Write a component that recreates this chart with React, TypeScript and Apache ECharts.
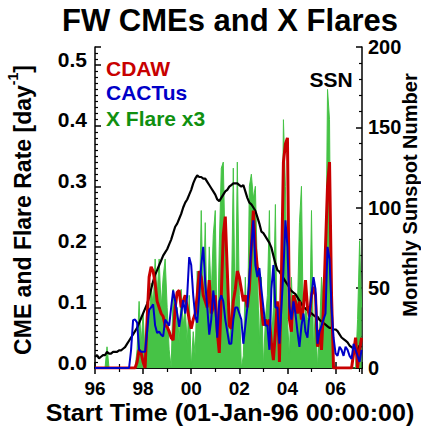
import React, { useEffect, useRef } from "react";
import * as echarts from "echarts";

// Monthly samples starting Jan 1996
const START_YEAR = 1996;
const STEP = 1 / 12;

const cdaw = [
  0, 0, 0, 0, 0, 0, 0, 0, 0, 0, 0, 0,
  0, 0, 0, 0, 0, 0, 0, 0, 0, 0.01, 0.03, 0.025,
  0.01, 0, 0.08, 0.15, 0.167, 0.16, 0.14, 0.11, 0.1, 0.09, 0.085, 0.07,
  0.068, 0.06, 0.05, 0.046, 0.1, 0.125, 0.128, 0.1, 0.11, 0.12, 0.1, 0.08,
  0.065, 0.08, 0.09, 0.12, 0.16, 0.15, 0.12, 0.11, 0.1, 0.145, 0.09, 0.1,
  0.12, 0.06, 0.025, 0.12, 0.22, 0.25, 0.16, 0.07, 0.065, 0.11, 0.13, 0.16,
  0.15, 0.13, 0.11, 0.12, 0.1, 0.13, 0.2, 0.26, 0.2, 0.165, 0.15, 0.1,
  0.07, 0.08, 0.07, 0.08, 0.04, 0.013, 0.06, 0.11, 0.01, 0.15, 0.34, 0.37,
  0.38, 0.08, 0.06, 0.12, 0.11, 0.09, 0.11, 0.08, 0.1, 0.145, 0.1, 0.085,
  0.12, 0.134, 0.12, 0.035, 0.063, 0.03, 0.1, 0.2, 0.3, 0.34, 0.12, 0,
  0, 0, 0, 0, 0, 0, 0, 0, 0, 0.024, 0.05, 0,
  0.03, 0.05,
];

const cactus = [
  0, 0, 0, 0, 0, 0, 0, 0, 0, 0, 0, 0,
  0, 0, 0, 0, 0, 0, 0.03, 0.079, 0.08, 0.075, 0.03, 0.027,
  0.027, 0.027, 0.06, 0.096, 0.1, 0.105, 0.07, 0.058, 0.06, 0.055, 0.052, 0.08,
  0.075, 0.07, 0.1, 0.128, 0.11, 0.09, 0.068, 0.09, 0.112, 0.09, 0.12, 0.183,
  0.17, 0.12, 0.085, 0.075, 0.12, 0.17, 0.2, 0.14, 0.1, 0.055, 0.08, 0.128,
  0.1, 0.05, 0.11, 0.12, 0.11, 0.08, 0.06, 0.04, 0.04, 0.08, 0.1, 0.1,
  0.09, 0.08, 0.04, 0.07, 0.1, 0.15, 0.2, 0.244, 0.17, 0.15, 0.165, 0.13,
  0.1, 0.07, 0.07, 0.03, 0.13, 0.17, 0.1, 0.1, 0.04, 0.1, 0.16, 0.244,
  0.2, 0.1, 0.08, 0.11, 0.09, 0.06, 0.035, 0.07, 0.09, 0.06, 0.05, 0.09,
  0.12, 0.15, 0.13, 0.04, 0.06, 0.07, 0.08, 0.09, 0.2, 0.18, 0.1, 0.05,
  0.024, 0.02, 0.035, 0.03, 0.02, 0.035, 0.03, 0.02, 0.015, 0.04, 0.03, 0.02,
  0.01, 0.03,
];

const xflare3 = [
  0, 0, 0, 0, 0, 0, 0.035, 0, 0, 0, 0, 0,
  0, 0, 0, 0, 0, 0, 0, 0, 0, 0.03, 0.11, 0.04,
  0.09, 0.02, 0.1, 0.06, 0.14, 0.1, 0.18, 0.12, 0.18, 0.1, 0.15, 0.18,
  0.1, 0.03, 0, 0.13, 0.06, 0.1, 0.04, 0.13, 0.07, 0.1, 0.04, 0.12,
  0, 0.06, 0.02, 0.16, 0.08, 0.26, 0.1, 0.24, 0.06, 0.2, 0.12, 0.22,
  0.26, 0.03, 0.2, 0.33, 0.34, 0.18, 0.1, 0.04, 0.1, 0.33, 0.06, 0.34,
  0.12, 0, 0.02, 0.15, 0.04, 0.3, 0.32, 0.28, 0.3, 0.16, 0.04, 0.15,
  0, 0.08, 0.12, 0.26, 0.04, 0.1, 0.27, 0, 0.06, 0.1, 0.41, 0.3,
  0.08, 0.02, 0.15, 0.05, 0.12, 0.1, 0.24, 0.3, 0.05, 0.1, 0.08, 0.04,
  0.26, 0.03, 0.1, 0, 0.06, 0.15, 0.1, 0.1, 0.46, 0.41, 0, 0,
  0, 0, 0, 0, 0, 0, 0, 0, 0, 0, 0, 0.08,
  0.21, 0.1,
];

const ssn = [
  7, 8, 6, 7, 8, 8, 10, 9, 9, 10, 10, 10,
  11, 11, 12, 13, 15, 17, 19, 21, 23, 25, 28, 31,
  34, 37, 40, 44, 49, 54, 58, 61, 64, 67, 70, 72,
  74, 77, 80, 84, 88, 90, 93, 96, 100, 103, 105, 108,
  111, 115, 118, 120, 119, 119, 118, 118, 116, 114, 112, 110,
  108, 105, 104, 106, 108, 110, 111, 113, 114, 115, 115, 115,
  114, 113, 114, 110, 106, 103, 102, 100, 98, 94, 90, 85,
  84, 82, 80, 78, 75, 70, 65, 61, 60, 58, 56, 54,
  52, 50, 48, 47, 46, 44, 42, 40, 38, 37, 36, 35,
  34, 33, 32, 32, 30, 29, 28, 27, 26, 25, 25, 24,
  24, 23, 21, 19, 18, 17, 16, 14, 13, 12, 13, 11,
  14, 13,
];

const xTicks = [1996, 1998, 2000, 2002, 2004, 2006];

const FONT = "'Liberation Sans', Arial, Helvetica, sans-serif";

function toXY(arr: number[]) {
  return arr.map((v, i) => [START_YEAR + i * STEP, v]);
}

export default function App() {
  const ref = useRef<HTMLDivElement>(null);
  useEffect(() => {
    if (!ref.current) return;
    const chart = echarts.init(ref.current, null, { renderer: "svg" });
    const axisLine = { show: true, lineStyle: { color: "#000", width: 1.5 } };
    const labelStyle = { color: "#000", fontFamily: FONT, fontWeight: "bold" as const, fontSize: 20 };
    chart.setOption({
      animation: false,
      backgroundColor: "#fff",
      grid: { left: 95, right: 59, top: 47, bottom: 67, containLabel: false },
      xAxis: [
        {
          type: "value",
          min: 1996,
          max: 2007.1,
          interval: 2,
          position: "bottom",
          axisLine,
          axisTick: { inside: true, length: 6, lineStyle: { color: "#000", width: 1.5 } },
          minorTick: { show: true, splitNumber: 2, length: 4, lineStyle: { color: "#000", width: 1.2 } },
          splitLine: { show: false },
          axisLabel: {
            ...labelStyle,
            fontSize: 19,
            lineHeight: 19,
            margin: 11,
            showMaxLabel: false,
            formatter: (v: number) => (xTicks.includes(Math.round(v)) ? String(Math.round(v) % 100).padStart(2, "0") : ""),
          },
        },
        {
          type: "value",
          min: 1996,
          max: 2007.1,
          interval: 2,
          position: "top",
          axisLine,
          axisTick: { inside: true, length: 6, lineStyle: { color: "#000", width: 1.5 } },
          minorTick: { show: true, splitNumber: 2, length: 4, lineStyle: { color: "#000", width: 1.2 } },
          splitLine: { show: false },
          axisLabel: { show: false },
        },
      ],
      yAxis: [
        {
          type: "value",
          min: 0,
          max: 0.53,
          interval: 0.1,
          position: "left",
          axisLine,
          axisTick: { inside: true, length: 6, lineStyle: { color: "#000", width: 1.5 } },
          minorTick: { show: true, splitNumber: 10, length: 3, lineStyle: { color: "#000", width: 1.2 } },
          splitLine: { show: false },
          axisLabel: {
            ...labelStyle,
            fontSize: 21,
            margin: 8,
            showMaxLabel: false,
            verticalAlign: "bottom",
            lineHeight: 12,
            formatter: (v: number) => v.toFixed(1),
          },
        },
        {
          type: "value",
          min: 0,
          max: 200,
          interval: 50,
          position: "right",
          axisLine,
          axisTick: { inside: true, length: 6, lineStyle: { color: "#000", width: 1.5 } },
          minorTick: { show: true, splitNumber: 5, length: 3, lineStyle: { color: "#000", width: 1.2 } },
          splitLine: { show: false },
          axisLabel: { ...labelStyle, fontSize: 20, margin: 6 },
        },
      ],
      series: [
        {
          name: "X Flare x3",
          type: "line",
          xAxisIndex: 0,
          yAxisIndex: 0,
          data: toXY(xflare3),
          symbol: "none",
          lineStyle: { color: "#46c346", width: 1 },
          areaStyle: { color: "#46c346", opacity: 1 },
          z: 1,
        },
        {
          name: "SSN",
          type: "line",
          xAxisIndex: 0,
          yAxisIndex: 1,
          data: toXY(ssn),
          symbol: "none",
          lineStyle: { color: "#000", width: 2.2 },
          z: 2,
        },
        {
          name: "CDAW",
          type: "line",
          xAxisIndex: 0,
          yAxisIndex: 0,
          data: toXY(cdaw),
          symbol: "none",
          lineStyle: { color: "#c80000", width: 3 },
          z: 3,
        },
        {
          name: "CACTus",
          type: "line",
          xAxisIndex: 0,
          yAxisIndex: 0,
          data: toXY(cactus),
          symbol: "none",
          lineStyle: { color: "#0000c8", width: 2 },
          z: 4,
        },
      ],
      graphic: [
        {
          type: "text",
          x: 230,
          y: 20,
          style: { text: "FW CMEs and X Flares", font: `bold 31px ${FONT}`, fill: "#000", align: "center", verticalAlign: "middle" },
        },
        {
          type: "text",
          x: 230,
          y: 413,
          scaleX: 1.09,
          style: { text: "Start Time (01-Jan-96 00:00:00)", font: `bold 23px ${FONT}`, fill: "#000", align: "center", verticalAlign: "middle" },
        },
        {
          type: "text",
          x: 20,
          y: 210,
          rotation: Math.PI / 2,
          style: {
            text: "{a|CME and Flare Rate [day}{s|-1}{a|]}",
            fill: "#000",
            align: "center",
            verticalAlign: "middle",
            rich: {
              a: { font: `bold 23px ${FONT}`, fill: "#000", lineHeight: 28, verticalAlign: "bottom" },
              s: { font: `bold 14px ${FONT}`, fill: "#000", lineHeight: 28, verticalAlign: "top" },
            },
          },
        },
        {
          type: "text",
          x: 410,
          y: 195,
          rotation: Math.PI / 2,
          style: { text: "Monthly Sunspot Number", font: `bold 20px ${FONT}`, fill: "#000", align: "center", verticalAlign: "middle" },
        },
        {
          type: "text",
          x: 106,
          y: 68.5,
          style: { text: "CDAW", font: `bold 21px ${FONT}`, fill: "#c80000", align: "left", verticalAlign: "middle" },
        },
        {
          type: "text",
          x: 106,
          y: 92.5,
          style: { text: "CACTus", font: `bold 21px ${FONT}`, fill: "#0000c8", align: "left", verticalAlign: "middle" },
        },
        {
          type: "text",
          x: 106,
          y: 118.5,
          style: { text: "X Flare x3", font: `bold 21px ${FONT}`, fill: "#109010", align: "left", verticalAlign: "middle" },
        },
        {
          type: "text",
          x: 331,
          y: 79.5,
          style: { text: "SSN", font: `bold 21px ${FONT}`, fill: "#000", align: "center", verticalAlign: "middle" },
        },
      ],
    });
    return () => chart.dispose();
  }, []);
  return <div ref={ref} style={{ position: "fixed", left: 0, top: 0, width: 421, height: 435, background: "#fff" }} />;
}
